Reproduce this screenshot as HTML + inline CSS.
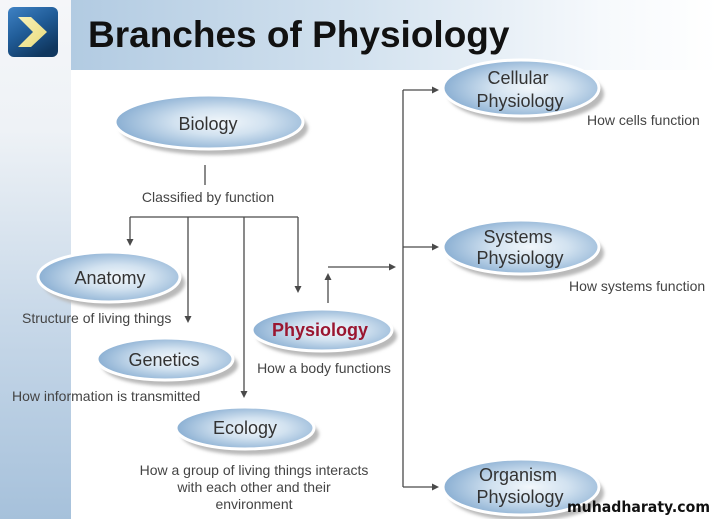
<!DOCTYPE html>
<html>
<head>
<meta charset="utf-8">
<style>
html,body{margin:0;padding:0;background:#fff;}
body{width:718px;height:519px;overflow:hidden;}
svg{display:block;}
text{font-family:"Liberation Sans",Arial,sans-serif;}
</style>
</head>
<body>
<svg width="718" height="519" viewBox="0 0 718 519" xmlns="http://www.w3.org/2000/svg">
<defs>
  <linearGradient id="side" x1="0" y1="0" x2="0" y2="1">
    <stop offset="0" stop-color="#f5f6f9"/>
    <stop offset="0.25" stop-color="#eef2f6"/>
    <stop offset="0.6" stop-color="#c9d9e9"/>
    <stop offset="1" stop-color="#a6c1db"/>
  </linearGradient>
  <linearGradient id="head" x1="0" y1="0" x2="1" y2="0">
    <stop offset="0" stop-color="#b2cbe2"/>
    <stop offset="0.45" stop-color="#d3e2ef"/>
    <stop offset="0.82" stop-color="#f6f9fc"/>
    <stop offset="1" stop-color="#ffffff"/>
  </linearGradient>
  <linearGradient id="icon" x1="0" y1="0" x2="0.6" y2="1">
    <stop offset="0" stop-color="#3f82c4"/>
    <stop offset="0.5" stop-color="#215d99"/>
    <stop offset="1" stop-color="#10375f"/>
  </linearGradient>
  <linearGradient id="chev" x1="0" y1="0" x2="1" y2="1">
    <stop offset="0" stop-color="#f8f1b8"/>
    <stop offset="1" stop-color="#eadb7c"/>
  </linearGradient>
  <radialGradient id="ell" cx="0.56" cy="0.5" r="0.58">
    <stop offset="0" stop-color="#f2f7fb"/>
    <stop offset="0.42" stop-color="#d2e2f0"/>
    <stop offset="1" stop-color="#86acd1"/>
  </radialGradient>
  <filter id="blur" x="-10%" y="-20%" width="120%" height="140%">
    <feGaussianBlur stdDeviation="1.6"/>
  </filter>
</defs>

<!-- background panels -->
<rect x="0" y="0" width="71" height="519" fill="url(#side)"/>
<rect x="71" y="0" width="647" height="70" fill="url(#head)"/>

<!-- icon -->
<rect x="8" y="7" width="50" height="50" rx="6" fill="url(#icon)"/>
<polygon points="18,17 31,17 47,32 31,47 18,47 33,32" fill="url(#chev)"/>

<!-- title -->
<text x="88" y="47" font-size="37" font-weight="bold" fill="#111">Branches of Physiology</text>

<!-- ellipses -->
<g>
  <ellipse cx="214" cy="128" rx="94" ry="27" fill="#b9b9b9" filter="url(#blur)"/>
  <ellipse cx="209" cy="122" rx="94" ry="27" fill="url(#ell)" stroke="#fff" stroke-width="3"/>
  <ellipse cx="114" cy="283" rx="71" ry="25" fill="#b9b9b9" filter="url(#blur)"/>
  <ellipse cx="109" cy="277" rx="71" ry="25" fill="url(#ell)" stroke="#fff" stroke-width="3"/>
  <ellipse cx="170" cy="365" rx="68" ry="21" fill="#b9b9b9" filter="url(#blur)"/>
  <ellipse cx="165" cy="359" rx="68" ry="21" fill="url(#ell)" stroke="#fff" stroke-width="3"/>
  <ellipse cx="327" cy="336" rx="70" ry="21" fill="#b9b9b9" filter="url(#blur)"/>
  <ellipse cx="322" cy="330" rx="70" ry="21" fill="url(#ell)" stroke="#fff" stroke-width="3"/>
  <ellipse cx="250" cy="434" rx="69" ry="21" fill="#b9b9b9" filter="url(#blur)"/>
  <ellipse cx="245" cy="428" rx="69" ry="21" fill="url(#ell)" stroke="#fff" stroke-width="3"/>
  <ellipse cx="526" cy="94" rx="78" ry="28" fill="#b9b9b9" filter="url(#blur)"/>
  <ellipse cx="521" cy="88" rx="78" ry="28" fill="url(#ell)" stroke="#fff" stroke-width="3"/>
  <ellipse cx="526" cy="253" rx="78" ry="27" fill="#b9b9b9" filter="url(#blur)"/>
  <ellipse cx="521" cy="247" rx="78" ry="27" fill="url(#ell)" stroke="#fff" stroke-width="3"/>
  <ellipse cx="526" cy="493" rx="78" ry="28" fill="#b9b9b9" filter="url(#blur)"/>
  <ellipse cx="521" cy="487" rx="78" ry="28" fill="url(#ell)" stroke="#fff" stroke-width="3"/>
</g>

<!-- connectors -->
<g stroke="#4a4a4a" stroke-width="1.3" fill="none">
  <line x1="205" y1="165" x2="205" y2="185"/>
  <line x1="130" y1="217" x2="298" y2="217"/>
  <line x1="130" y1="217" x2="130" y2="240"/>
  <line x1="188" y1="217" x2="188" y2="317"/>
  <line x1="244" y1="217" x2="244" y2="392"/>
  <line x1="298" y1="217" x2="298" y2="287"/>
  <line x1="328" y1="303" x2="328" y2="279"/>
  <line x1="328" y1="267" x2="390" y2="267"/>
  <line x1="403" y1="90" x2="403" y2="487"/>
  <line x1="403" y1="90" x2="433" y2="90"/>
  <line x1="403" y1="247" x2="433" y2="247"/>
  <line x1="403" y1="487" x2="433" y2="487"/>
</g>
<g fill="#4a4a4a">
  <polygon points="126.5,239 133.5,239 130,246"/>
  <polygon points="184.5,316 191.5,316 188,323"/>
  <polygon points="240.5,391 247.5,391 244,398"/>
  <polygon points="294.5,286 301.5,286 298,293"/>
  <polygon points="324.5,280 331.5,280 328,273"/>
  <polygon points="389,263.5 389,270.5 396,267"/>
  <polygon points="432,86.5 432,93.5 439,90"/>
  <polygon points="432,243.5 432,250.5 439,247"/>
  <polygon points="432,483.5 432,490.5 439,487"/>
</g>

<!-- node labels -->
<g font-size="18" fill="#333" text-anchor="middle">
  <text x="208" y="130">Biology</text>
  <text x="110" y="284">Anatomy</text>
  <text x="164" y="366">Genetics</text>
  <text x="245" y="434">Ecology</text>
  <text x="518" y="84">Cellular</text>
  <text x="520" y="107">Physiology</text>
  <text x="518" y="243">Systems</text>
  <text x="520" y="264">Physiology</text>
  <text x="518" y="481">Organism</text>
  <text x="520" y="503">Physiology</text>
</g>
<text x="320" y="336" font-size="18" font-weight="bold" fill="#9a1630" text-anchor="middle">Physiology</text>

<!-- descriptions -->
<g font-size="14" fill="#444">
  <text x="208" y="202" text-anchor="middle">Classified by function</text>
  <text x="22" y="323">Structure of living things</text>
  <text x="12" y="401">How information is transmitted</text>
  <text x="324" y="373" text-anchor="middle">How a body functions</text>
  <text x="587" y="125">How cells function</text>
  <text x="569" y="291">How systems function</text>
  <text x="254" y="475" text-anchor="middle">How a group of living things interacts</text>
  <text x="254" y="492" text-anchor="middle">with each other and their</text>
  <text x="254" y="509" text-anchor="middle">environment</text>
</g>

<!-- watermark -->
<text x="567" y="512" font-size="15.5" font-weight="bold" fill="#111" style="font-family:'DejaVu Sans',sans-serif" textLength="143" lengthAdjust="spacingAndGlyphs">muhadharaty.com</text>
</svg>
</body>
</html>
